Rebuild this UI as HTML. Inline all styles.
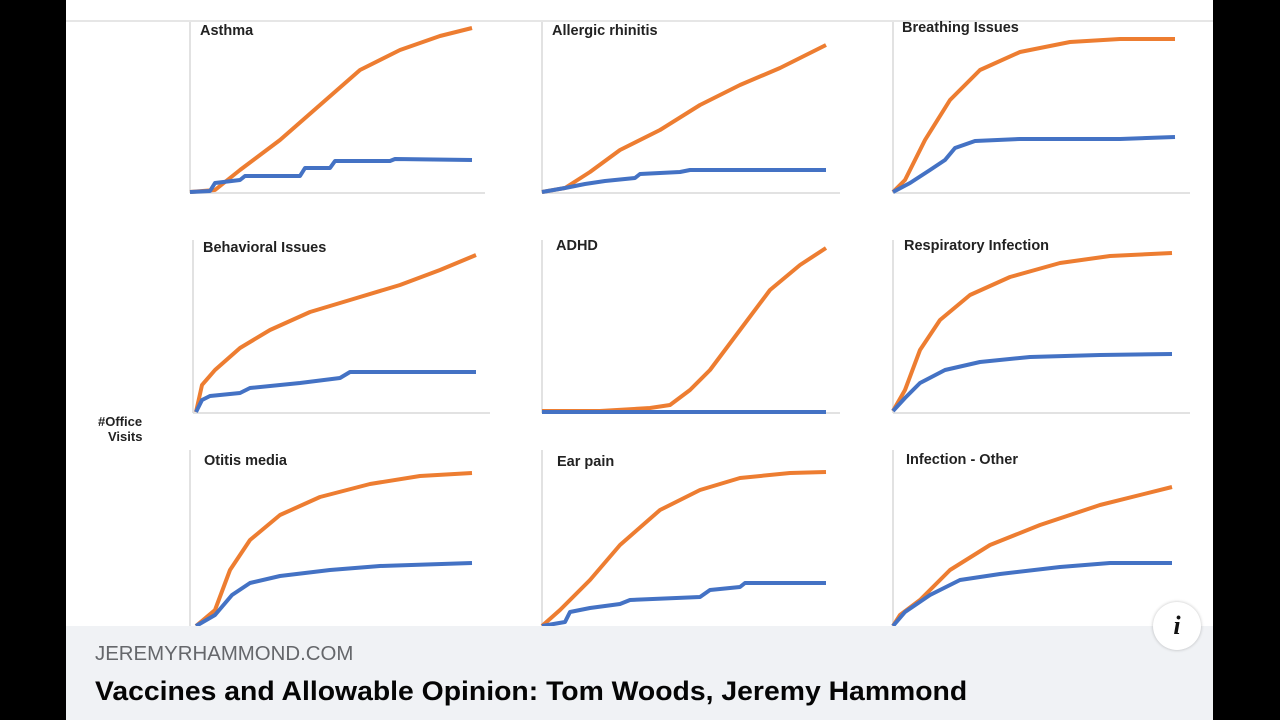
<!DOCTYPE html>
<html><head><meta charset="utf-8"><style>
body{margin:0;width:1280px;height:720px;background:#000;overflow:hidden;font-family:"Liberation Sans",sans-serif}
#w{position:absolute;left:66px;top:0;width:1147px;height:720px;background:#fff}
#cap{position:absolute;left:66px;top:626px;width:1147px;height:94px;background:#f0f2f5}
#dom{position:absolute;left:95px;top:643px;font-size:20px;color:#65676b;transform:scaleX(1.02);transform-origin:left}
#tt{position:absolute;left:95px;top:676px;font-size:27px;color:#050505;font-weight:bold;transform:scaleX(1.05);transform-origin:left;white-space:nowrap}
#info{position:absolute;left:1153px;top:602px;width:48px;height:48px;border-radius:50%;background:#fff;box-shadow:0 0 3px rgba(0,0,0,.25);font:bold italic 26px "Liberation Serif",serif;text-align:center;line-height:48px;color:#111}
</style></head><body>
<div id="w"></div>
<svg width="1280" height="720" style="position:absolute;left:0;top:0">
<line x1="66" y1="21" x2="1213" y2="21" stroke="#ccc" stroke-width="1"/>
<g stroke="#d9d9d9" stroke-width="1.5">
<line x1="190" y1="22" x2="190" y2="193"/><line x1="190" y1="193" x2="485" y2="193"/>
<line x1="542" y1="22" x2="542" y2="193"/><line x1="542" y1="193" x2="840" y2="193"/>
<line x1="893" y1="22" x2="893" y2="193"/><line x1="893" y1="193" x2="1190" y2="193"/>
<line x1="193" y1="240" x2="193" y2="413"/><line x1="193" y1="413" x2="490" y2="413"/>
<line x1="542" y1="240" x2="542" y2="413"/><line x1="542" y1="413" x2="840" y2="413"/>
<line x1="893" y1="240" x2="893" y2="413"/><line x1="893" y1="413" x2="1190" y2="413"/>
<line x1="190" y1="450" x2="190" y2="626"/><line x1="542" y1="450" x2="542" y2="626"/><line x1="893" y1="450" x2="893" y2="626"/>
</g>
<g font-weight="bold" font-size="14.5" fill="#222">
<text x="200" y="35">Asthma</text><text x="552" y="35">Allergic rhinitis</text><text x="902" y="32">Breathing Issues</text>
<text x="203" y="252">Behavioral Issues</text><text x="556" y="250">ADHD</text><text x="904" y="250">Respiratory Infection</text>
<text x="204" y="465">Otitis media</text><text x="557" y="466">Ear pain</text><text x="906" y="464">Infection - Other</text>
<text x="98" y="426" font-size="13">#Office</text><text x="108" y="441" font-size="13">Visits</text>
</g>
<g fill="none" stroke-width="4" stroke-linejoin="round">
<path stroke="#ed7d31" d="M190 192 L215 190 L240 170 L280 140 L320 105 L360 70 L400 50 L440 36 L472 28"/>
<path stroke="#4472c4" d="M190 192 L210 191 L215 183 L240 180 L245 176 L300 176 L305 168 L330 168 L335 161 L390 161 L395 159 L472 160"/>
<path stroke="#ed7d31" d="M542 192 L565 188 L590 172 L620 150 L660 130 L700 105 L740 85 L780 68 L826 45"/>
<path stroke="#4472c4" d="M542 192 L565 188 L585 184 L605 181 L635 178 L640 174 L680 172 L690 170 L826 170"/>
<path stroke="#ed7d31" d="M893 192 L905 180 L925 140 L950 100 L980 70 L1020 52 L1070 42 L1120 39 L1175 39"/>
<path stroke="#4472c4" d="M893 192 L910 183 L930 170 L945 160 L955 148 L975 141 L1020 139 L1120 139 L1175 137"/>
<path stroke="#ed7d31" d="M196 412 L202 385 L215 370 L240 348 L270 330 L310 312 L350 300 L400 285 L440 270 L476 255"/>
<path stroke="#4472c4" d="M196 412 L202 400 L210 396 L240 393 L250 388 L300 383 L340 378 L350 372 L476 372"/>
<path stroke="#ed7d31" d="M542 411 L600 411 L650 408 L670 405 L690 390 L710 370 L740 330 L770 290 L800 265 L826 248"/>
<path stroke="#4472c4" d="M542 412 L826 412"/>
<path stroke="#ed7d31" d="M893 411 L905 390 L920 350 L940 320 L970 295 L1010 277 L1060 263 L1110 256 L1172 253"/>
<path stroke="#4472c4" d="M893 411 L905 398 L920 383 L945 370 L980 362 L1030 357 L1100 355 L1172 354"/>
<path stroke="#ed7d31" d="M196 626 L215 610 L230 570 L250 540 L280 515 L320 497 L370 484 L420 476 L472 473"/>
<path stroke="#4472c4" d="M196 626 L215 615 L232 595 L250 583 L280 576 L330 570 L380 566 L472 563"/>
<path stroke="#ed7d31" d="M542 626 L560 610 L590 580 L620 545 L660 510 L700 490 L740 478 L790 473 L826 472"/>
<path stroke="#4472c4" d="M542 626 L565 622 L570 612 L590 608 L620 604 L630 600 L700 597 L710 590 L740 587 L745 583 L826 583"/>
<path stroke="#ed7d31" d="M893 626 L900 615 L920 600 L950 570 L990 545 L1040 525 L1100 505 L1172 487"/>
<path stroke="#4472c4" d="M893 626 L905 612 L930 595 L960 580 L1000 574 L1060 567 L1110 563 L1172 563"/>
</g>
</svg>
<div id="cap"></div>
<div id="dom">JEREMYRHAMMOND.COM</div>
<div id="tt">Vaccines and Allowable Opinion: Tom Woods, Jeremy Hammond</div>
<div id="info">i</div>
</body></html>
